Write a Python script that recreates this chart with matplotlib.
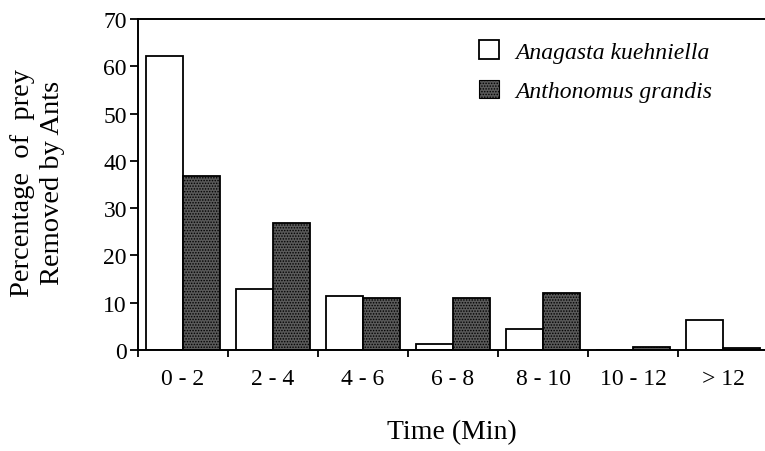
"""
Porcentaje de presas retiradas por hormigas según el tiempo.
Barras agrupadas: Anagasta kuehniella vs Anthonomus grandis.
"""

import matplotlib
matplotlib.use("Agg")
import matplotlib.pyplot as plt
import matplotlib.patches as mpatches
import numpy as np

# ── Datos ────────────────────────────────────────────────────
categorias = ["0 - 2", "2 - 4", "4 - 6", "6 - 8", "8 - 10", "10 - 12", "> 12"]
anagasta = [62.2, 13.0, 11.4, 1.2, 4.5, 0.0, 6.3]
anthonomus = [36.8, 26.8, 10.9, 10.9, 12.0, 0.6, 0.5]

serie_1 = "Anagasta kuehniella"
serie_2 = "Anthonomus grandis"

# ── Estilo ───────────────────────────────────────────────────
plt.rcParams["font.family"] = ["Liberation Serif", "DejaVu Serif"]
plt.rcParams["hatch.linewidth"] = 0.7

ANCHO = 0.41
GRIS = "#5a5a5a"
PUNTEADO = "......"

fig = plt.figure(figsize=(7.65, 4.52), dpi=100)
ax = fig.add_axes([138 / 765, 101 / 452, 630 / 765, 331 / 452])

x = np.arange(len(categorias)) + 0.5
ax.bar(x - ANCHO / 2, anagasta, ANCHO, facecolor="white",
       edgecolor="black", linewidth=1.3)
ax.bar(x + ANCHO / 2, anthonomus, ANCHO, facecolor=GRIS,
       edgecolor="black", linewidth=1.3, hatch=PUNTEADO)

ax.set_xlim(0, len(categorias))
ax.set_ylim(0, 70)

# ejes: marcas en los límites de cada categoría, etiquetas en el centro
ax.set_xticks(np.arange(len(categorias) + 1))
ax.set_xticklabels([])
ax.set_xticks(x, minor=True)
ax.set_xticklabels(categorias, minor=True, fontsize=17)
ax.tick_params(axis="x", which="major", direction="out", length=5, width=1.3)
ax.tick_params(axis="x", which="minor", length=0, pad=13)
ax.set_yticks(np.arange(0, 71, 10))
ax.tick_params(axis="y", direction="out", length=6, width=1.3,
               labelsize=17, pad=2)

ax.spines["right"].set_visible(False)
for lado in ("left", "bottom", "top"):
    ax.spines[lado].set_linewidth(1.4)

# títulos de ejes colocados en píxeles de la figura
fig.text(452 / 765, 1 - 433 / 452, "Time (Min)", fontsize=20,
         ha="center", va="center")
fig.text(37.5 / 765, 1 - 183 / 452, "Percentage  of  prey\nRemoved by Ants",
         fontsize=20.5, rotation=90, ha="center", va="center",
         multialignment="center", linespacing=1.28)

# leyenda
h1 = mpatches.Patch(facecolor="white", edgecolor="black", linewidth=1.3)
h2 = mpatches.Patch(facecolor=GRIS, edgecolor="black", linewidth=0.8,
                    hatch=PUNTEADO)
ax.legend([h1, h2], [serie_1, serie_2], loc="upper left",
          bbox_to_anchor=(479 / 765, 1 - 41 / 452),
          bbox_transform=fig.transFigure, frameon=False,
          prop={"family": "Liberation Serif", "style": "italic", "size": 17},
          handlelength=0.85, handleheight=0.85, handletextpad=0.7,
          labelspacing=0.72, borderpad=0, borderaxespad=0)

fig.savefig("out.png", dpi=100, facecolor="white")
plt.close(fig)
